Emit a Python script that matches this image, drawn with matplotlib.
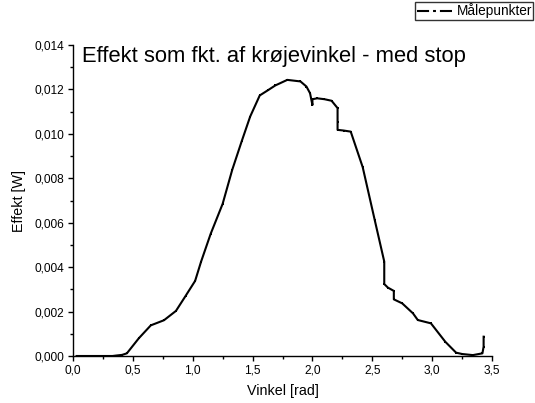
import matplotlib
matplotlib.use("Agg")
import matplotlib.pyplot as plt
from matplotlib.lines import Line2D
from matplotlib.ticker import MultipleLocator, FuncFormatter

plt.rcParams['font.family'] = ['Liberation Sans', 'DejaVu Sans']

vinkel = [0.03, 0.07, 0.22, 0.33, 0.36, 0.41, 0.45, 0.55, 0.65, 0.76, 0.86, 0.94,
          1.02, 1.07, 1.15, 1.25, 1.33, 1.41, 1.48, 1.56, 1.63, 1.69, 1.79, 1.90,
          1.95, 1.98, 2.00, 2.00, 2.04, 2.10, 2.16, 2.21, 2.21, 2.21, 2.26, 2.32,
          2.42, 2.52, 2.60, 2.60, 2.63, 2.68, 2.68, 2.75, 2.84, 2.88, 2.99, 3.11,
          3.20, 3.25, 3.34, 3.42, 3.43, 3.43]
effekt = [0.0, 0.0, 0.0, 0.0, 0.00002, 0.00005, 0.00012, 0.00080, 0.00138, 0.00161,
          0.00203, 0.00270, 0.00338, 0.00425, 0.00550, 0.00685, 0.00838, 0.00968,
          0.01078, 0.01173, 0.01197, 0.01218, 0.01243, 0.01236, 0.01213, 0.01183,
          0.01130, 0.01156, 0.01160, 0.01156, 0.01149, 0.01116, 0.01055, 0.01018,
          0.01015, 0.01010, 0.00850, 0.00613, 0.00425, 0.00324, 0.00308, 0.00293,
          0.00255, 0.00237, 0.00192, 0.00162, 0.00147, 0.00064, 0.00015, 0.00009,
          0.00004, 0.00012, 0.00042, 0.00087]

title = "Effekt som fkt. af krøjevinkel - med stop"
xlabel = "Vinkel [rad]"
ylabel = "Effekt [W]"
series_name = "Målepunkter"

fig = plt.figure(figsize=(5.35, 4.03), dpi=100)
ax = fig.add_axes([73/535, 1-356/403, (492-73)/535, (356-45)/403])

ax.plot(vinkel, effekt, color='black', lw=1.5, marker='s', ms=1.6, mew=0)

ax.set_xlim(0, 3.5)
ax.set_ylim(0, 0.014)
for s in ['top', 'right']:
    ax.spines[s].set_visible(False)
for s in ['left', 'bottom']:
    ax.spines[s].set_linewidth(1.0)

ax.xaxis.set_major_locator(MultipleLocator(0.5))
ax.xaxis.set_minor_locator(MultipleLocator(0.25))
ax.yaxis.set_major_locator(MultipleLocator(0.002))
ax.yaxis.set_minor_locator(MultipleLocator(0.001))
ax.xaxis.set_major_formatter(FuncFormatter(lambda v, p: f"{v:.1f}".replace('.', ',')))
ax.yaxis.set_major_formatter(FuncFormatter(lambda v, p: f"{v:.3f}".replace('.', ',')))
ax.tick_params(which='major', direction='out', length=3.8, width=1, labelsize=8.6, pad=2.5)
ax.tick_params(which='minor', direction='out', length=2.5, width=1)

ax.set_xlabel(xlabel, fontsize=10.3, labelpad=5)
ax.set_ylabel(ylabel, fontsize=10.3, labelpad=6)

ax.text(0.022, 0.998, title, transform=ax.transAxes, fontsize=15.8, va='top', ha='left')

handle = Line2D([], [], color='black', lw=1.5, dashes=(5.8, 1.9, 1.4, 1.9))
leg = fig.legend([handle], [series_name], loc='upper right', bbox_to_anchor=(0.997, 0.995),
                 fontsize=9.8, frameon=True, fancybox=False, edgecolor='black',
                 handlelength=2.6, handletextpad=0.35, borderpad=0.1, borderaxespad=0)
leg.get_frame().set_linewidth(1.0)

fig.savefig("out.png", dpi=100)
